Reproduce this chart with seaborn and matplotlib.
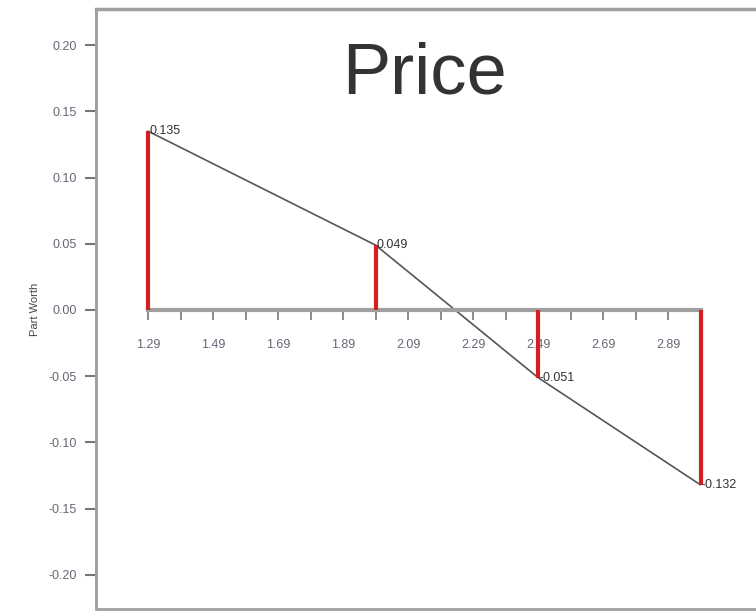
import matplotlib
matplotlib.use("Agg")
import numpy as np
import pandas as pd
import matplotlib.pyplot as plt
import seaborn as sns
from matplotlib.patches import Rectangle

prices = [1.29, 1.99, 2.49, 2.99]
part_worth = [0.135, 0.049, -0.051, -0.132]
value_labels = ["0.135", "0.049", "-0.051", "-0.132"]
major_ticks = [1.29, 1.49, 1.69, 1.89, 2.09, 2.29, 2.49, 2.69, 2.89]
minor_ticks = [1.39, 1.59, 1.79, 1.99, 2.19, 2.39, 2.59, 2.79, 2.99]
y_ticks = [0.20, 0.15, 0.10, 0.05, 0.00, -0.05, -0.10, -0.15, -0.20]

df = pd.DataFrame({"Price": prices, "Part Worth": part_worth})

sns.set_style("white")
plt.rcParams["font.family"] = ["Liberation Sans", "DejaVu Sans"]

fig = plt.figure(figsize=(7.56, 6.11), dpi=100)
ax = fig.add_axes([96 / 756, 2 / 611, 680 / 756, 600 / 611])

frame_col = "#a0a0a0"
sns.lineplot(data=df, x="Price", y="Part Worth", color="#555555", lw=1.2, ax=ax)
ax.vlines(df["Price"], 0, df["Part Worth"], color="#d42020", lw=3, zorder=3)

for x, y, t in zip(prices, part_worth, value_labels):
    ax.text(x + 0.004, y, t, fontsize=9, color="#333333", va="center", ha="left", clip_on=False)

ax.set_xlim(1.13, 1.29 + 628 / 325)
ax.set_ylim(-0.2257, 0.2272)

# zero axis with price ticks
ax.spines["bottom"].set_position(("data", 0))
ax.spines["bottom"].set_bounds(1.29, 2.99)
ax.spines["bottom"].set_color(frame_col)
ax.spines["bottom"].set_linewidth(3)
ax.set_xticks(major_ticks)
ax.set_xticklabels([f"{v:.2f}" for v in major_ticks])
ax.set_xticks(minor_ticks, minor=True)
ax.tick_params(axis="x", which="both", direction="out", length=7, width=1.2,
               color="#777777", labelsize=9, labelcolor="#666677", pad=14, bottom=True)

ax.set_yticks(y_ticks)
ax.set_yticklabels([f"{v:.2f}" for v in y_ticks])
ax.tick_params(axis="y", direction="out", length=8, width=1.5, color="#777777",
               labelsize=9, labelcolor="#666677", pad=6, left=True)
ax.spines["left"].set_color(frame_col)
ax.spines["left"].set_linewidth(2)
ax.spines["top"].set_color(frame_col)
ax.spines["top"].set_linewidth(2.5)
ax.spines["right"].set_visible(False)
ax.add_patch(Rectangle((0, 0), 1, 1, transform=ax.transAxes, fill=False,
                       edgecolor=frame_col, lw=2, clip_on=False))

ax.set_xlabel("")
ax.set_ylabel("Part Worth", fontsize=8, color="#444444", labelpad=6)
ax.text(0.483, 0.89, "Price", transform=ax.transAxes, fontsize=52,
        color="#333333", ha="center", va="center")

fig.savefig("out.png", dpi=100)
